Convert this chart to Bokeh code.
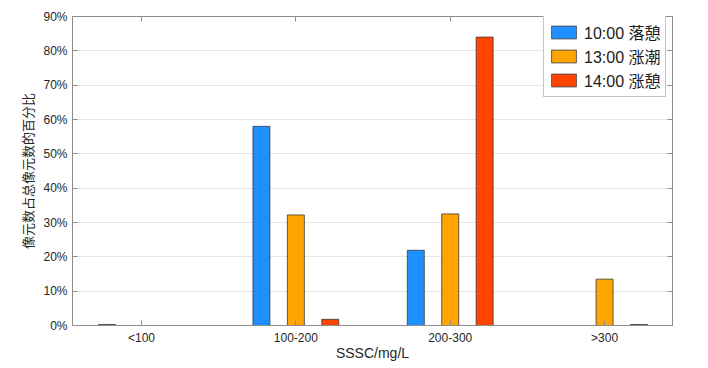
import numpy as np
from bokeh.plotting import figure
from bokeh.models import (Range1d, FixedTicker, LinearAxis, Legend, LegendItem,
                          ColumnDataSource, CustomJSTickFormatter)
from bokeh.embed import file_html
from bokeh.resources import INLINE

# ---- data ----
categories = ["<100", "100-200", "200-300", ">300"]
series_names = ["10:00 落憩", "13:00 涨潮", "14:00 涨憩"]
pct_1000 = [0.3, 58.0, 21.9, 0.0]
pct_1300 = [0.0, 32.2, 32.5, 13.5]
pct_1400 = [0.0, 1.8, 84.0, 0.3]
colors = ["#1E90FF", "#FFA500", "#FF4500"]
y_ticks = [0, 10, 20, 30, 40, 50, 60, 70, 80, 90]
y_tick_labels = ["0%", "10%", "20%", "30%", "40%", "50%", "60%", "70%", "80%", "90%"]

series_values = [pct_1000, pct_1300, pct_1400]
offsets = [-0.223, 0.0, 0.223]
bar_w = 0.11

cat_pos = np.arange(1, len(categories) + 1)

p = figure(width=708, height=368,
           output_backend="svg", toolbar_location=None,
           x_range=Range1d(0.553, 4.44), y_range=Range1d(0, 90),
           min_border_left=72, min_border_right=36, min_border_top=16, min_border_bottom=43)
p.background_fill_color = "white"
p.border_fill_color = "white"
p.outline_line_color = "#8c8c8c"
p.outline_line_width = 1

renderers = []
for vals, off, col in zip(series_values, offsets, colors):
    src = ColumnDataSource(dict(x=cat_pos + off, top=vals))
    r = p.vbar(x="x", top="top", width=bar_w, bottom=0, source=src,
               fill_color=col, line_color="#3a3a3a", line_width=0.8)
    renderers.append(r)

tick_font = "Liberation Sans"
lab_color = "#262626"
axis_color = "#8c8c8c"

# x axis
xa = p.xaxis[0]
xa.ticker = FixedTicker(ticks=list(cat_pos))
xa.major_label_overrides = {int(i): c for i, c in zip(cat_pos, categories)}
xa.axis_label = "SSSC/mg/L"
xa.axis_label_text_font = tick_font
xa.axis_label_text_font_size = "14px"
xa.axis_label_text_font_style = "normal"
xa.axis_label_text_color = lab_color
xa.axis_label_standoff = -3
xa.major_label_text_font = tick_font
xa.major_label_text_font_size = "12px"
xa.major_label_text_color = lab_color
xa.major_label_standoff = 5
xa.major_tick_in = 5
xa.major_tick_out = 0
xa.minor_tick_in = 0
xa.minor_tick_out = 0
xa.axis_line_color = axis_color
xa.major_tick_line_color = axis_color

# y axis
ya = p.yaxis[0]
ya.ticker = FixedTicker(ticks=y_ticks)
ya.major_label_overrides = {t: l for t, l in zip(y_ticks, y_tick_labels)}
ya.axis_label = "像元数占总像元数的百分比"
ya.axis_label_text_font = "Noto Sans CJK SC"
ya.axis_label_text_font_size = "13px"
ya.axis_label_text_font_style = "normal"
ya.axis_label_text_color = lab_color
ya.axis_label_standoff = 3
ya.major_label_text_font = tick_font
ya.major_label_text_font_size = "12px"
ya.major_label_text_color = lab_color
ya.major_label_standoff = 5
ya.major_tick_in = 5
ya.major_tick_out = 0
ya.minor_tick_in = 0
ya.minor_tick_out = 0
ya.axis_line_color = axis_color
ya.major_tick_line_color = axis_color

# mirrored axes (box ticks, no labels)
blank = CustomJSTickFormatter(code="return ''")
ra = LinearAxis(ticker=FixedTicker(ticks=y_ticks), formatter=blank,
                major_label_standoff=0, major_tick_in=5, major_tick_out=0,
                minor_tick_in=0, minor_tick_out=0, axis_line_color=axis_color,
                major_tick_line_color=axis_color)
p.add_layout(ra, "right")
ta = LinearAxis(ticker=FixedTicker(ticks=list(cat_pos)), formatter=blank,
                major_label_standoff=0, major_tick_in=5, major_tick_out=0,
                minor_tick_in=0, minor_tick_out=0, axis_line_color=axis_color,
                major_tick_line_color=axis_color)
p.add_layout(ta, "above")

p.xgrid.grid_line_color = None
p.ygrid.ticker = FixedTicker(ticks=y_ticks)
p.ygrid.grid_line_color = "#e6e6e6"
p.ygrid.grid_line_width = 1

legend = Legend(items=[LegendItem(label=n, renderers=[r]) for n, r in zip(series_names, renderers)],
                location=(471, 228))
legend.label_text_font = "Liberation Sans, Noto Sans CJK SC"
legend.label_text_font_size = "16px"
legend.label_text_color = "#1a1a1a"
legend.glyph_width = 31
legend.glyph_height = 16
legend.label_height = 16
legend.spacing = -6
legend.padding = 4
legend.margin = 0
legend.label_standoff = 5
legend.border_line_color = "#8c8c8c"
legend.border_line_width = 1
legend.background_fill_alpha = 1.0
p.add_layout(legend, "center")

open("out.html", "w").write(file_html(p, INLINE))
